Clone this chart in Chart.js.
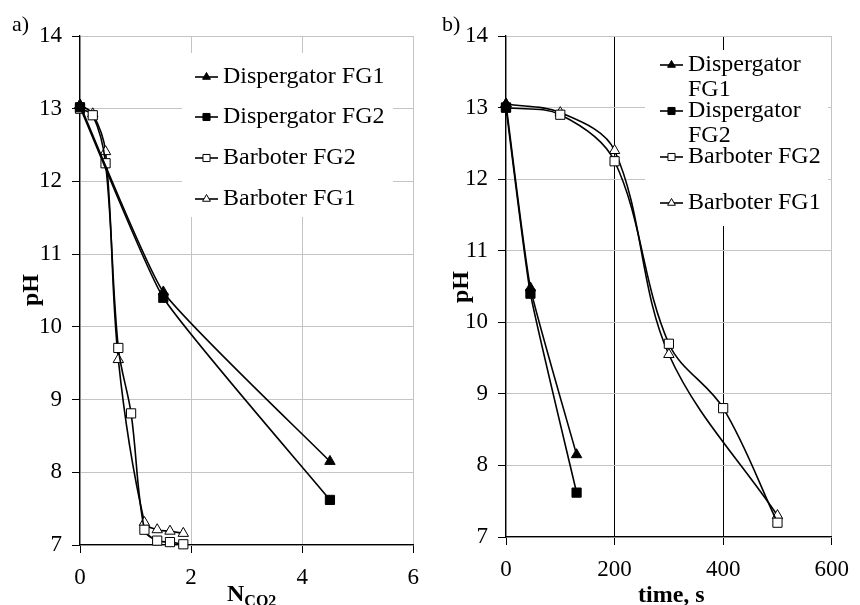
<!DOCTYPE html>
<html>
<head>
<meta charset="utf-8">
<title>pH curves</title>
<script src="https://cdn.jsdelivr.net/npm/chart.js"></script>
<style>
  body { margin: 0; background: #fff; }
  #wrap { position: relative; width: 860px; height: 605px; overflow: hidden; font-family: "Liberation Serif", "Times New Roman", serif; color: #000; }
  canvas { position: absolute; top: 0; }
  .lbl { position: absolute; white-space: nowrap; line-height: 24px; font-size: 24px; }
  .bold { font-weight: bold; }
  .rot { transform: translate(-50%, -50%) rotate(-90deg); }
  sub { font-size: 16px; vertical-align: -5px; line-height: 0; }
</style>
</head>
<body>
<div id="wrap">
  <canvas id="chartA" width="430" height="605" style="left:0"></canvas>
  <canvas id="chartB" width="430" height="605" style="left:430px"></canvas>
  <div class="lbl" style="left:12px;top:12px;font-size:22px">a)</div>
  <div class="lbl" style="left:442px;top:12px;font-size:22px">b)</div>
  <div class="lbl bold rot" style="left:30px;top:290px">pH</div>
  <div class="lbl bold rot" style="left:460px;top:287px">pH</div>
  <div class="lbl bold" style="left:227px;top:581px">N<sub>CO2</sub></div>
  <div class="lbl bold" style="left:638px;top:582px">time, s</div>
</div>

<script>
// ---- data: a) pH vs N_CO2 ----
var nDispFG1 = [0, 1.5, 4.5];
var phDispFG1 = [13.05, 10.48, 8.15];
var nDispFG2 = [0, 1.5, 4.5];
var phDispFG2 = [13.02, 10.4, 7.62];
var nBarbFG2 = [0, 0.23, 0.46, 0.69, 0.92, 1.16, 1.39, 1.62, 1.86];
var phBarbFG2 = [13.0, 12.91, 12.25, 9.71, 8.81, 7.21, 7.06, 7.04, 7.01];
var nBarbFG1 = [0, 0.23, 0.46, 0.69, 1.16, 1.39, 1.62, 1.86];
var phBarbFG1 = [13.05, 12.93, 12.41, 9.55, 7.31, 7.21, 7.19, 7.16];

// ---- data: b) pH vs time ----
var tDispFG1 = [0, 45, 130];
var tphDispFG1 = [13.05, 10.48, 8.15];
var tDispFG2 = [0, 45, 130];
var tphDispFG2 = [13.0, 10.4, 7.62];
var tBarbFG2 = [0, 100, 200, 300, 400, 500];
var tphBarbFG2 = [13.0, 12.9, 12.25, 9.7, 8.8, 7.2];
var tBarbFG1 = [0, 100, 200, 300, 500];
var tphBarbFG1 = [13.05, 12.93, 12.4, 9.55, 7.3];

var seriesNames = ['Dispergator FG1', 'Dispergator FG2', 'Barboter FG2', 'Barboter FG1'];
var xTicksA = [0, 2, 4, 6];
var xTicksB = [0, 200, 400, 600];
var yTicks = [7, 8, 9, 10, 11, 12, 13, 14];

var FONT = "'Liberation Serif', 'Times New Roman', serif";

function pts(xs, ys) {
    var out = [];
    for (var i = 0; i < xs.length; i++) out.push({x: xs[i], y: ys[i]});
    return out;
}

// marker look for each series (filled / open triangle, square)
var markerStyle = [
    {pointStyle: 'triangle', fill: '#000', radius: 6},
    {pointStyle: 'rect', fill: '#000', radius: 6.5},
    {pointStyle: 'rect', fill: '#fff', radius: 6.5},
    {pointStyle: 'triangle', fill: '#fff', radius: 6}
];

function makeDatasets(groups) {
    return groups.map(function (g, i) {
        var m = markerStyle[i];
        return {
            label: seriesNames[i],
            data: pts(g[0], g[1]),
            showLine: true,
            borderColor: '#000',
            borderWidth: 1.6,
            tension: i < 2 ? 0.15 : 0.35,
            pointStyle: m.pointStyle,
            pointRadius: m.radius,
            pointBackgroundColor: m.fill,
            pointBorderColor: '#000',
            pointBorderWidth: 1,
            clip: false
        };
    });
}

// legend drawn inside the plot, excel style (line + marker + text)
var boxLegend = {
    id: 'boxLegend',
    afterDraw: function (chart) {
        var o = chart.options.plugins.boxLegend;
        if (!o) return;
        var ctx = chart.ctx;
        ctx.save();
        ctx.fillStyle = '#fff';
        ctx.fillRect(o.x, o.y, o.w, o.h);
        ctx.font = '24px ' + FONT;
        ctx.textBaseline = 'middle';
        ctx.textAlign = 'left';
        for (var i = 0; i < seriesNames.length; i++) {
            var y = o.rows[i];
            ctx.strokeStyle = '#000';
            ctx.lineWidth = 1.6;
            ctx.beginPath();
            ctx.moveTo(o.lineX, y);
            ctx.lineTo(o.lineX + 23, y);
            ctx.stroke();
            var m = markerStyle[i];
            ctx.fillStyle = m.fill;
            ctx.lineWidth = 1;
            Chart.helpers.drawPoint(ctx, {pointStyle: m.pointStyle, radius: m.radius - 1.5, rotation: 0, borderWidth: 1}, o.lineX + 11.5, y);
            ctx.fillStyle = '#000';
            var lines = o.text[i];
            for (var k = 0; k < lines.length; k++) {
                ctx.fillText(lines[k], o.textX, y + k * 25);
            }
        }
        ctx.restore();
    }
};

function makeChart(id, groups, xMax, xStep, xTicks, area, legend, darkX) {
    var canvas = document.getElementById(id);
    return new Chart(canvas, {
        type: 'scatter',
        data: {datasets: makeDatasets(groups)},
        plugins: [boxLegend],
        options: {
            responsive: false,
            animation: false,
            layout: {padding: {top: area.top, right: area.right, left: 0, bottom: 0}},
            plugins: {
                legend: {display: false},
                tooltip: {enabled: false},
                boxLegend: legend
            },
            scales: {
                x: {
                    type: 'linear', min: 0, max: xMax,
                    afterFit: function (s) { s.height = area.xh; },
                    afterBuildTicks: function (s) { s.ticks = xTicks.map(function (v) { return {value: v}; }); },
                    ticks: {stepSize: xStep, color: '#000', padding: 11, font: {family: FONT, size: 23}},
                    grid: {
                        color: function (c) { return darkX && c.tick && c.tick.value > 0 && c.tick.value < xMax ? '#000' : '#c4c4c4'; },
                        tickColor: '#000', tickLength: 8, lineWidth: 1
                    },
                    border: {color: '#000', width: 1.3}
                },
                y: {
                    min: 7, max: 14,
                    afterFit: function (s) { s.width = area.yw; },
                    afterBuildTicks: function (s) { s.ticks = yTicks.map(function (v) { return {value: v}; }); },
                    ticks: {stepSize: 1, color: '#000', padding: 10, font: {family: FONT, size: 23}},
                    grid: {color: '#c4c4c4', tickColor: '#000', tickLength: 8, lineWidth: 1},
                    border: {color: '#000', width: 1.3}
                }
            }
        }
    });
}

makeChart('chartA',
    [[nDispFG1, phDispFG1], [nDispFG2, phDispFG2], [nBarbFG2, phBarbFG2], [nBarbFG1, phBarbFG1]],
    6, 2, xTicksA,
    {top: 36, right: 10, yw: 80, xh: 60},
    {x: 182, y: 53, w: 211, h: 164, lineX: 195, textX: 223, rows: [77, 117, 158, 199],
     text: [['Dispergator FG1'], ['Dispergator FG2'], ['Barboter FG2'], ['Barboter FG1']]},
    false);

makeChart('chartB',
    [[tDispFG1, tphDispFG1], [tDispFG2, tphDispFG2], [tBarbFG2, tphBarbFG2], [tBarbFG1, tphBarbFG1]],
    600, 200, xTicksB,
    {top: 36, right: 23, yw: 76, xh: 68},
    {x: 215, y: 50, w: 183, h: 176, lineX: 230, textX: 258, rows: [65, 111, 157, 203],
     text: [['Dispergator', 'FG1'], ['Dispergator', 'FG2'], ['Barboter FG2'], ['Barboter FG1']]},
    true);
</script>
</body>
</html>
